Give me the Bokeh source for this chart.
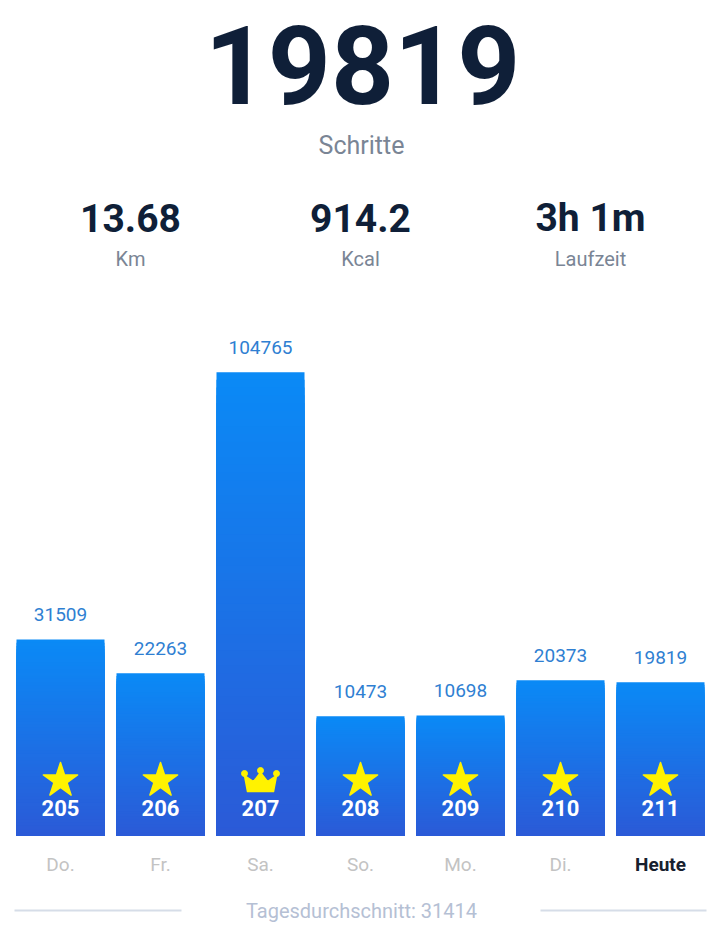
from bokeh.plotting import figure
from bokeh.models import Range1d, Label
from bokeh.embed import file_html
from bokeh.resources import INLINE
from bokeh.core.properties import value

# ---- data ----
days = ["Do.", "Fr.", "Sa.", "So.", "Mo.", "Di.", "Heute"]
steps = [31509, 22263, 104765, 10473, 10698, 20373, 19819]
levels = [205, 206, 207, 208, 209, 210, 211]
badges = ["star", "star", "crown", "star", "star", "star", "star"]
stat_values = ["13.68", "914.2", "3h 1m"]
stat_names = ["Km", "Kcal", "Laufzeit"]
unit_name = "Schritte"
avg_name = "Tagesdurchschnitt"

# ---- layout constants ----
W, H = 709, 936
PX = 274.0            # steps per screen pixel
BASE = -81 * PX       # bar bottom (bars have a fixed base part)
Y0 = BASE - 101 * PX
Y1 = Y0 + H * PX
XPX = 0.01
X0 = -0.60
X1 = X0 + W * XPX
FONT = value("Roboto")
K = 0.4               # baseline compensation (fraction of font size)

p = figure(width=W, height=H, x_range=Range1d(X0, X1), y_range=Range1d(Y0, Y1),
           output_backend="svg", toolbar_location=None, min_border=0,
           x_axis_location=None, y_axis_location=None)
p.grid.visible = False
p.outline_line_color = None
p.background_fill_color = "white"
p.border_fill_color = "white"

idx = list(range(len(days)))

# ---- gradient bars (nested slices, tallest first) ----
top_c = (10, 138, 246)
bot_c = (43, 90, 215)
N = 60
xs, bots, tops, cols = [], [], [], []
for k in range(N, 0, -1):
    f = k / N
    t = (k - 0.5) / N
    c = tuple(int(round(bot_c[j] + (top_c[j] - bot_c[j]) * t)) for j in range(3))
    hexc = "#%02x%02x%02x" % c
    for i, v in zip(idx, steps):
        xs.append(i)
        bots.append(BASE)
        tops.append(BASE + (v - BASE) * f)
        cols.append(hexc)
p.vbar(x=xs, width=0.88, bottom=bots, top=tops, fill_color=cols, line_color=None)

# value labels above bars
fs = 19
p.text(x=idx, y=[v + (17 + K * fs) * PX for v in steps], text=[str(v) for v in steps],
       text_align="center", text_baseline="alphabetic", text_font=FONT,
       text_font_size=f"{fs}px", text_color="#2f7fd2")

# level numbers inside bars
fs = 22
p.text(x=idx, y=[BASE + (19 + K * fs) * PX] * len(idx), text=[str(l) for l in levels],
       text_align="center", text_baseline="alphabetic", text_font=FONT,
       text_font_size=f"{fs}px", text_color="white", text_font_style="bold")

# badges
yellow = "#fff200"
star_x = [i for i, b in zip(idx, badges) if b == "star"]
p.scatter(x=star_x, y=[BASE + 55 * PX] * len(star_x), marker="star", size=36,
          fill_color=yellow, line_color=yellow, line_width=1.5, line_join="round")
crown_shape = [(-13, -11), (13, -11), (16, 5), (7, -1), (0, 8), (-7, -1), (-16, 5)]
crown_balls = [(-16, 7), (0, 10), (16, 7)]
for i, b in zip(idx, badges):
    if b == "crown":
        cy = BASE + 55 * PX
        p.patch([i + dx * XPX for dx, dy in crown_shape],
                [cy + dy * PX for dx, dy in crown_shape],
                fill_color=yellow, line_color=yellow, line_width=1.5, line_join="round")
        p.scatter(x=[i + dx * XPX for dx, dy in crown_balls],
                  y=[cy + dy * PX for dx, dy in crown_balls],
                  size=6, fill_color=yellow, line_color=yellow)

# day labels
fs = 19
day_colors = ["#c3c3c3"] * (len(days) - 1) + ["#17202e"]
day_styles = ["normal"] * (len(days) - 1) + ["bold"]
p.text(x=idx, y=[BASE - (37 - K * fs) * PX] * len(idx), text=days,
       text_align="center", text_baseline="alphabetic", text_font=FONT,
       text_font_size=f"{fs}px", text_color=day_colors, text_font_style=day_styles)

# footer
avg = round(sum(steps) / len(steps))
fs = 20
p.text(x=[X0 + 361 * XPX], y=[Y0 + (18 + K * fs) * PX], text=[f"{avg_name}: {avg}"],
       text_align="center", text_baseline="alphabetic", text_font=FONT,
       text_font_size=f"{fs}px", text_color="#b5c0d4")
ly = Y0 + 26 * PX
p.segment(x0=[X0 + 14 * XPX, X0 + 540 * XPX], y0=[ly, ly],
          x1=[X0 + 181 * XPX, X0 + 706 * XPX], y1=[ly, ly],
          line_color="#d6dde8", line_width=2)


def hdr(x, base_y, text, fs, color, bold=False):
    p.add_layout(Label(x=x, y=H - base_y + K * fs, x_units="screen", y_units="screen",
                       text=text, text_align="center", text_baseline="alphabetic",
                       text_font="Roboto", text_font_size=f"{fs}px",
                       text_font_style="bold" if bold else "normal",
                       text_color=color))


# big headline number, anchored at its vertical middle
p.add_layout(Label(x=362, y=H - 64, x_units="screen", y_units="screen",
                   text=str(steps[-1]), text_align="center", text_baseline="middle",
                   text_font="Roboto", text_font_size="110px", text_font_style="bold",
                   text_color="#0f1f38"))
hdr(361, 155, unit_name, 25, "#7a8595")
for cx, sv, sn in zip([130, 360, 590], stat_values, stat_names):
    hdr(cx, 233, sv, 39, "#0f1f38", bold=True)
    hdr(cx, 266, sn, 20, "#7a8595")

open("out.html", "w").write(file_html(p, INLINE))
